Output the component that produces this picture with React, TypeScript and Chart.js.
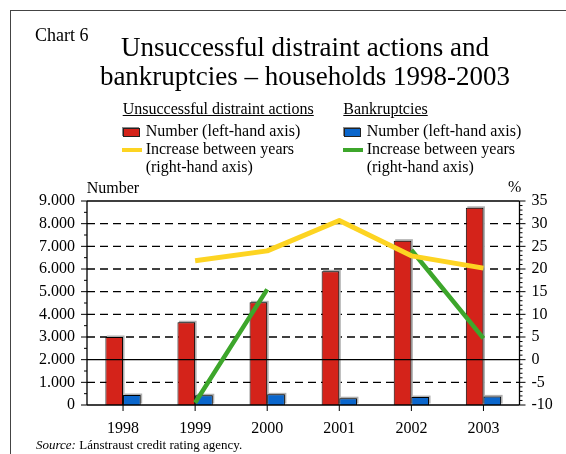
import React, { useEffect, useRef } from "react";
import { Chart, registerables } from "chart.js";

Chart.register(...registerables);

// ---- data ----
const years = ["1998", "1999", "2000", "2001", "2002", "2003"];
const distraintNumbers = [3000, 3650, 4530, 5900, 7250, 8700];
const bankruptcyNumbers = [440, 430, 470, 300, 350, 380];
const distraintIncrease = [null, 21.8, 24.0, 30.7, 22.9, 20.2];
const bankruptcyIncrease = [null, -9.5, 15.5, null, 24.2, 4.7];
const leftMin = 0;
const leftMax = 9000;
const leftStep = 1000;
const rightMin = -10;
const rightMax = 35;
const rightStep = 5;

const RED = "#D4231A";
const BLUE = "#0A66CC";
const YELLOW = "#FDD422";
const GREEN = "#3DA62B";
const FONT = '"Liberation Serif", "Times New Roman", Times, serif';

function fmtThousands(v: number) {
  return String(v).replace(/\B(?=(\d{3})+(?!\d))/g, ".");
}

const decorPlugin = {
  id: "decor",
  beforeDatasetsDraw(chart: any) {
    const { ctx, chartArea: a, scales } = chart;
    const y = scales.y;
    const zeroPx = scales.y1.getPixelForValue(0);
    ctx.save();
    ctx.strokeStyle = "#000";
    ctx.lineWidth = 1.4;
    ctx.setLineDash([8, 5]);
    for (let v = leftMin + leftStep; v < leftMax; v += leftStep) {
      const py = y.getPixelForValue(v);
      if (Math.abs(py - zeroPx) < 1) continue;
      ctx.beginPath();
      ctx.moveTo(a.left, py);
      ctx.lineTo(a.right, py);
      ctx.stroke();
    }
    ctx.setLineDash([]);
    ctx.fillStyle = "#b0b0b0";
    for (const di of [0, 1]) {
      const meta = chart.getDatasetMeta(di);
      for (const el of meta.data) {
        const p = el.getProps(["x", "y", "base", "width"], true);
        const top = Math.min(p.y, p.base);
        ctx.fillRect(p.x - p.width / 2 + 1.5, top - 1.5, p.width, Math.abs(p.base - p.y));
      }
    }
    ctx.restore();
  },
  afterDatasetDraw(chart: any, args: any) {
    if (args.index !== 0) return;
    const { ctx, chartArea: a, scales } = chart;
    const py = scales.y1.getPixelForValue(0);
    ctx.save();
    ctx.strokeStyle = "#000";
    ctx.lineWidth = 1.2;
    ctx.beginPath();
    ctx.moveTo(a.left, py);
    ctx.lineTo(a.right, py);
    ctx.stroke();
    ctx.restore();
  },
  afterDatasetsDraw(chart: any) {
    const { ctx, chartArea: a, scales } = chart;
    ctx.save();
    ctx.strokeStyle = "#000";
    ctx.lineWidth = 1.3;
    ctx.beginPath();
    ctx.moveTo(a.left, a.top);
    ctx.lineTo(a.right, a.top);
    ctx.moveTo(a.left, a.top);
    ctx.lineTo(a.left, a.bottom);
    ctx.moveTo(a.right, a.top);
    ctx.lineTo(a.right, a.bottom);
    ctx.moveTo(a.left, a.bottom);
    ctx.lineTo(a.right, a.bottom);
    ctx.stroke();
    ctx.lineWidth = 1;
    ctx.beginPath();
    for (let v = leftMin; v <= leftMax; v += leftStep / 2) {
      const py = scales.y.getPixelForValue(v);
      const len = v % leftStep === 0 ? 6 : 3;
      ctx.moveTo(a.left - len, py);
      ctx.lineTo(a.left, py);
    }
    for (let v = rightMin; v <= rightMax; v += 1) {
      const py = scales.y1.getPixelForValue(v);
      const len = v % rightStep === 0 ? 6 : 3;
      ctx.moveTo(a.right, py);
      ctx.lineTo(a.right + len, py);
    }
    for (let i = 0; i < years.length; i++) {
      const px = scales.x.getPixelForValue(i);
      ctx.moveTo(px, a.bottom);
      ctx.lineTo(px, a.bottom + 6);
    }
    ctx.stroke();
    ctx.restore();
  },
};

const Txt = ({ x, b, size, children, style }: any) => (
  <div
    style={{
      position: "absolute",
      left: x,
      top: b - 0.8375 * size,
      fontSize: size,
      lineHeight: `${size}px`,
      whiteSpace: "nowrap",
      ...style,
    }}
  >
    {children}
  </div>
);

export default function App() {
  const ref = useRef<HTMLCanvasElement>(null);
  useEffect(() => {
    const font = { family: FONT, size: 16 };
    const chart = new Chart(ref.current as HTMLCanvasElement, {
      type: "bar",
      data: {
        labels: years,
        datasets: [
          {
            type: "bar",
            label: "Unsuccessful distraint actions – Number",
            data: distraintNumbers,
            backgroundColor: RED,
            borderColor: "#000",
            borderWidth: 1,
            yAxisID: "y",
            order: 3,
            categoryPercentage: 0.49,
            barPercentage: 1,
          },
          {
            type: "bar",
            label: "Bankruptcies – Number",
            data: bankruptcyNumbers,
            backgroundColor: BLUE,
            borderColor: "#000",
            borderWidth: 1,
            yAxisID: "y",
            order: 4,
            categoryPercentage: 0.49,
            barPercentage: 1,
          },
          {
            type: "line",
            label: "Unsuccessful distraint actions – Increase",
            data: distraintIncrease,
            borderColor: YELLOW,
            backgroundColor: YELLOW,
            borderWidth: 5,
            pointRadius: 0,
            borderJoinStyle: "round",
            yAxisID: "y1",
            order: 1,
            spanGaps: false,
          },
          {
            type: "line",
            label: "Bankruptcies – Increase",
            data: bankruptcyIncrease,
            borderColor: GREEN,
            backgroundColor: GREEN,
            borderWidth: 4.5,
            pointRadius: 0,
            borderJoinStyle: "round",
            yAxisID: "y1",
            order: 2,
            spanGaps: false,
          },
        ] as any,
      },
      options: {
        responsive: false,
        maintainAspectRatio: false,
        animation: false,
        layout: { padding: { top: 201, left: 0, right: 0, bottom: 0 } },
        plugins: {
          legend: { display: false },
          title: { display: false },
          tooltip: { enabled: false },
        },
        scales: {
          x: {
            grid: { display: false, drawTicks: false },
            border: { display: false },
            ticks: { font, color: "#000", padding: 14 },
            afterFit: (s: any) => {
              s.height = 49;
            },
          },
          y: {
            position: "left",
            min: leftMin,
            max: leftMax,
            grid: { display: false, drawTicks: false },
            border: { display: false },
            ticks: {
              stepSize: leftStep,
              font,
              color: "#000",
              padding: 12,
              callback: (v: any) => fmtThousands(Number(v)),
            },
            afterFit: (s: any) => {
              s.width = 87;
            },
          },
          y1: {
            position: "right",
            min: rightMin,
            max: rightMax,
            grid: { display: false, drawTicks: false },
            border: { display: false },
            ticks: { stepSize: rightStep, font, color: "#000", padding: 12 },
            afterFit: (s: any) => {
              s.width = 46.5;
            },
          },
        },
      } as any,
      plugins: [decorPlugin],
    });
    return () => chart.destroy();
  }, []);

  return (
    <div
      style={{
        position: "absolute",
        left: 0,
        top: 0,
        width: 566,
        height: 454,
        background: "#fff",
        fontFamily: FONT,
        color: "#000",
        overflow: "hidden",
      }}
    >
      <div
        style={{
          position: "absolute",
          left: 10,
          top: 10,
          right: -2,
          bottom: -2,
          borderLeft: "1px solid #444",
          borderTop: "1px solid #444",
        }}
      />
      <canvas
        ref={ref}
        width={566}
        height={454}
        style={{ position: "absolute", left: 0, top: 0, width: 566, height: 454 }}
      />
      <Txt x={35} b={40.7} size={18}>Chart 6</Txt>
      <Txt x={5} b={56.7} size={27} style={{ width: 600, textAlign: "center" }}>
        Unsuccessful distraint actions and
      </Txt>
      <Txt x={5} b={86} size={27} style={{ width: 600, textAlign: "center" }}>
        bankruptcies – households 1998-2003
      </Txt>

      <Txt x={122.7} b={114.3} size={16} style={{ textDecoration: "underline" }}>
        Unsuccessful distraint actions
      </Txt>
      <div
        style={{
          position: "absolute",
          left: 123.3,
          top: 128.3,
          width: 15,
          height: 6.5,
          background: RED,
          border: "1px solid #222",
          boxShadow: "-1px -1px 0 #888",
        }}
      />
      <Txt x={145.7} b={136.7} size={16}>Number (left-hand axis)</Txt>
      <div style={{ position: "absolute", left: 121.7, top: 148, width: 20, height: 4, background: YELLOW }} />
      <Txt x={145.7} b={154.7} size={16}>Increase between years</Txt>
      <Txt x={145.7} b={172.7} size={16}>(right-hand axis)</Txt>

      <Txt x={343.3} b={114.3} size={16} style={{ textDecoration: "underline" }}>
        Bankruptcies
      </Txt>
      <div
        style={{
          position: "absolute",
          left: 344,
          top: 128.3,
          width: 15,
          height: 6.5,
          background: BLUE,
          border: "1px solid #222",
          boxShadow: "-1px -1px 0 #888",
        }}
      />
      <Txt x={366.7} b={136.7} size={16}>Number (left-hand axis)</Txt>
      <div style={{ position: "absolute", left: 342.5, top: 148, width: 20, height: 4, background: GREEN }} />
      <Txt x={366.7} b={154.7} size={16}>Increase between years</Txt>
      <Txt x={366.7} b={172.7} size={16}>(right-hand axis)</Txt>

      <Txt x={86.7} b={193.3} size={16}>Number</Txt>
      <Txt x={508} b={192} size={16}>%</Txt>

      <Txt x={36} b={448.5} size={13}>
        <i>Source:</i> Lánstraust credit rating agency.
      </Txt>
    </div>
  );
}
